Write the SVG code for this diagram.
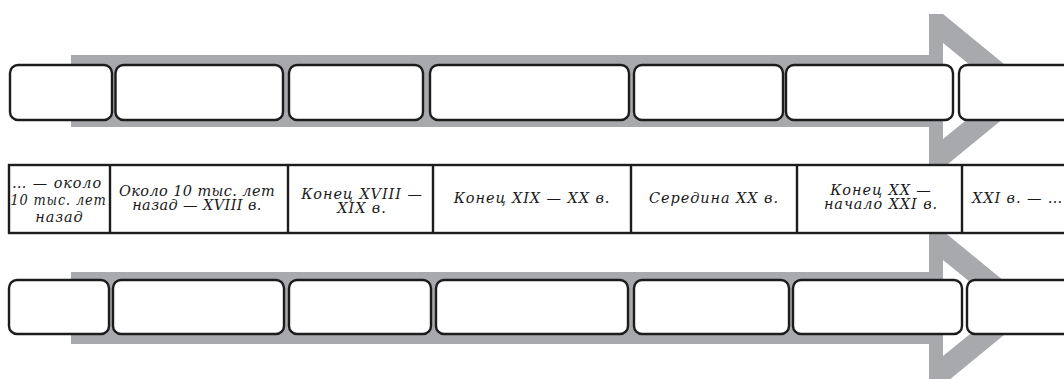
<svg xmlns="http://www.w3.org/2000/svg" width="1064" height="379" viewBox="0 0 1064 379">
  <style>
    .arrow { fill: #a7a9ac; fill-rule: evenodd; }
    .box { fill: #ffffff; stroke: #1c1c1c; stroke-width: 2.4; }
    .grid { fill: #ffffff; stroke: #1c1c1c; stroke-width: 2.4; }
    .col { stroke: #1c1c1c; stroke-width: 2.4; }
    .lbl { font-family: "DejaVu Serif", "Liberation Serif", serif; font-style: italic; font-size: 14.5px; letter-spacing: 0.9px; fill: #1a1a1a; text-anchor: middle; }
    .tight { letter-spacing: 0.4px; }
  </style>
  <defs>
    <!-- wide gray arrow: solid shaft, outlined head -->
    <path id="arrowShape" d="M71,55 H929 V14 H943 L1037,91 L943,168 H929 V127 H71 Z M943,43 L1002,91 L943,139 Z"/>
  </defs>

  <!-- upper timeline -->
  <g id="arrow-top">
    <use href="#arrowShape" class="arrow"/>
  </g>
  <g id="top-boxes">
    <rect id="top-1" class="box" x="10" y="65" width="102" height="55" rx="8"/>
    <rect id="top-2" class="box" x="115.5" y="65" width="167.5" height="55" rx="8"/>
    <rect id="top-3" class="box" x="289" y="65" width="134" height="55" rx="8"/>
    <rect id="top-4" class="box" x="430" y="65" width="199" height="55" rx="8"/>
    <rect id="top-5" class="box" x="634" y="65" width="149" height="55" rx="8"/>
    <rect id="top-6" class="box" x="786" y="65" width="167" height="55" rx="8"/>
    <rect id="top-7" class="box" x="959" y="65" width="130" height="55" rx="8"/>
  </g>

  <!-- lower timeline -->
  <g id="arrow-bottom">
    <use href="#arrowShape" class="arrow" transform="translate(0,217)"/>
  </g>
  <g id="bottom-boxes">
    <rect id="bottom-1" class="box" x="9" y="280" width="100" height="54" rx="8"/>
    <rect id="bottom-2" class="box" x="113" y="280" width="171" height="54" rx="8"/>
    <rect id="bottom-3" class="box" x="289" y="280" width="142" height="54" rx="8"/>
    <rect id="bottom-4" class="box" x="436" y="280" width="192" height="54" rx="8"/>
    <rect id="bottom-5" class="box" x="634" y="280" width="155" height="54" rx="8"/>
    <rect id="bottom-6" class="box" x="793" y="280" width="169" height="54" rx="8"/>
    <rect id="bottom-7" class="box" x="967" y="280" width="130" height="54" rx="8"/>
  </g>

  <!-- period table -->
  <g id="period-table">
    <rect class="grid" x="9" y="165" width="1070" height="68"/>
    <g id="table-dividers">
      <line class="col" x1="110" y1="165" x2="110" y2="233"/>
      <line class="col" x1="288" y1="165" x2="288" y2="233"/>
      <line class="col" x1="433" y1="165" x2="433" y2="233"/>
      <line class="col" x1="631" y1="165" x2="631" y2="233"/>
      <line class="col" x1="797" y1="165" x2="797" y2="233"/>
      <line class="col" x1="962" y1="165" x2="962" y2="233"/>
    </g>
    <g id="cell-1">
      <text class="lbl" x="57" y="188" textLength="90" lengthAdjust="spacingAndGlyphs">… — около</text>
      <text class="lbl" x="58.5" y="205" textLength="96" lengthAdjust="spacingAndGlyphs">10 тыс. лет</text>
      <text class="lbl" x="59.5" y="222">назад</text>
    </g>
    <g id="cell-2">
      <text class="lbl tight" x="197" y="196">Около 10 тыс. лет</text>
      <text class="lbl tight" x="197" y="210">назад — XVIII в.</text>
    </g>
    <g id="cell-3">
      <text class="lbl" x="362" y="199">Конец XVIII —</text>
      <text class="lbl" x="362" y="213">XIX в.</text>
    </g>
    <g id="cell-4">
      <text class="lbl" x="532" y="203">Конец XIX — XX в.</text>
    </g>
    <g id="cell-5">
      <text class="lbl" x="714" y="203">Середина XX в.</text>
    </g>
    <g id="cell-6">
      <text class="lbl" x="881" y="195">Конец XX —</text>
      <text class="lbl" x="881" y="209">начало XXI в.</text>
    </g>
    <g id="cell-7">
      <text class="lbl" x="972" y="203" style="text-anchor:start">XXI в. — …</text>
    </g>
  </g>
</svg>
